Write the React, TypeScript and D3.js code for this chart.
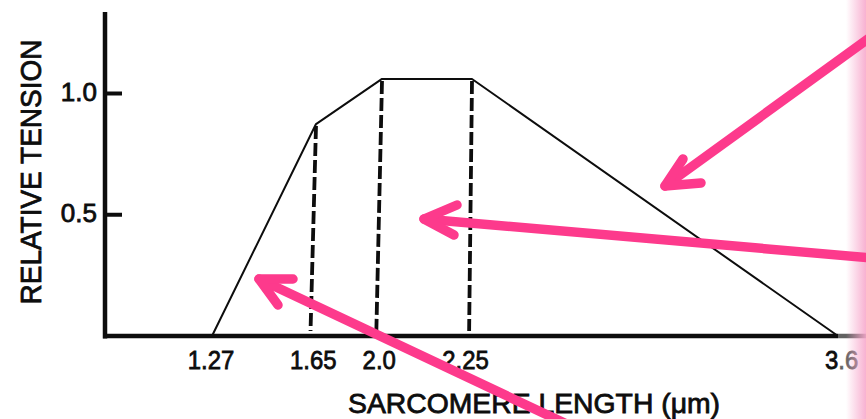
import React from "react";
import * as d3 from "d3";

const lengths = [1.27, 1.65, 2.0, 2.25, 3.6];
const tension = [0, 0.874, 1.06, 1.06, 0];
const xTickValues = [1.27, 1.65, 2.0, 2.25, 3.6];
const xTickLabels = ["1.27", "1.65", "2.0", "2.25", "3.6"];
const yTickValues = [0.5, 1.0];
const yTickLabels = ["0.5", "1.0"];
const dashTops = [1.65, 2.0, 2.25];
const dashFeet = [1.63, 1.97, 2.242];
const dashTopTension = [0.874, 1.06, 1.06];

const W = 866;
const H = 419;
const PINK = "#fd3a8c";
const INK = "#0d0d0d";

export default function App() {
  const x = d3
    .scaleLinear()
    .domain([1.27, 1.65, 2.0, 2.25, 3.6])
    .range([212, 316, 382, 472, 838]);
  const y = d3.scaleLinear().domain([0, 1]).range([336, 93.5]);

  const line = d3
    .line<number>()
    .x((_, i) => x(lengths[i]))
    .y((d) => y(d));

  const font = "'Liberation Sans', Arial, Helvetica, sans-serif";
  const textStroke = { stroke: INK, strokeWidth: 0.8 };
  const labelShift = [-1, -3, -3, -7, 4];

  const arrows = [
    { from: [872, 36], tip: [665, 186], a1: [683, 159], a2: [701, 183] },
    { from: [872, 258], tip: [424, 219], a1: [457, 205], a2: [454, 235] },
    { from: [575, 428], tip: [259, 279], a1: [293, 279], a2: [278, 305] },
  ];

  return (
    <svg
      width={W}
      height={H}
      style={{ position: "absolute", left: 0, top: 0, background: "#fff" }}
    >
      <defs>
        <linearGradient id="edge" x1="0" x2="1" y1="0" y2="0">
          <stop offset="0" stopColor="#f7a8cc" stopOpacity="0" />
          <stop offset="1" stopColor="#f7a8cc" stopOpacity="0.9" />
        </linearGradient>
      </defs>
      <rect x={0} y={0} width={W} height={H} fill="#fff" />

      {/* axes */}
      <line x1={105} y1={12} x2={105} y2={338.5} stroke={INK} strokeWidth={4.5} />
      <line x1={103} y1={336} x2={866} y2={336} stroke={INK} strokeWidth={4.5} />

      {yTickValues.map((v, i) => (
        <g key={v}>
          <line x1={105} x2={122} y1={y(v)} y2={y(v)} stroke={INK} strokeWidth={4} />
          <text
            x={97}
            y={y(v) + 7}
            textAnchor="end"
            fontFamily={font}
            fontSize={26}
            fill={INK}
            {...textStroke}
          >
            {yTickLabels[i]}
          </text>
        </g>
      ))}

      {xTickValues.map((v, i) => (
        <text
          key={v}
          x={x(v) + labelShift[i]}
          y={369}
          textAnchor="middle"
          fontFamily={font}
          fontSize={26}
          fill={INK}
          {...textStroke}
          transform={`translate(${x(v)},0) scale(0.92,1) translate(${-x(v)},0)`}
        >
          {xTickLabels[i]}
        </text>
      ))}

      {/* curve */}
      <path d={line(tension) || ""} fill="none" stroke={INK} strokeWidth={2} strokeLinejoin="round" />

      {/* dashed verticals */}
      {dashTops.map((v, i) => (
        <line
          key={v}
          x1={x(v)}
          y1={y(dashTopTension[i]) + 2}
          x2={x(dashFeet[i])}
          y2={331}
          stroke={INK}
          strokeWidth={3.8}
          strokeDasharray="13 4"
        />
      ))}

      {/* axis titles */}
      <text
        x={348}
        y={413}
        fontFamily={font}
        fontSize={28}
        fill={INK}
        {...textStroke}
        textLength={372}
        lengthAdjust="spacingAndGlyphs"
      >
        SARCOMERE LENGTH (μm)
      </text>
      <text
        transform="translate(41,172) rotate(-90)"
        textAnchor="middle"
        fontFamily={font}
        fontSize={30}
        fill={INK}
        {...textStroke}
        textLength={265}
        lengthAdjust="spacingAndGlyphs"
      >
        RELATIVE TENSION
      </text>

      {/* right edge wash */}
      <rect x={838} y={0} width={28} height={H} fill="#fff" opacity={0.35} />
      <rect x={846} y={0} width={20} height={H} fill="url(#edge)" />

      {/* pink arrows */}
      {arrows.map((a, i) => (
        <g key={i} stroke={PINK} strokeWidth={9.5} strokeLinecap="round" fill="none">
          <line x1={a.from[0]} y1={a.from[1]} x2={a.tip[0]} y2={a.tip[1]} />
          <polyline
            points={`${a.a1[0]},${a.a1[1]} ${a.tip[0]},${a.tip[1]} ${a.a2[0]},${a.a2[1]}`}
            strokeLinejoin="round"
          />
        </g>
      ))}
    </svg>
  );
}
